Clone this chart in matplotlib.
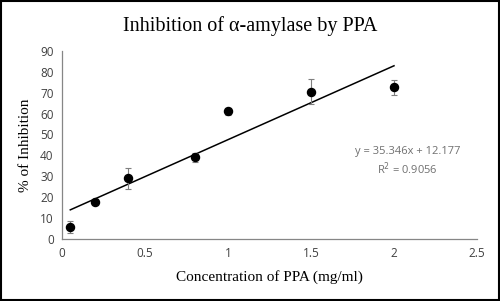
import matplotlib.pyplot as plt
import numpy as np

conc = [0.05, 0.2, 0.4, 0.8, 1.0, 1.5, 2.0]
inhibition = [5.8, 17.8, 29.0, 39.0, 61.0, 70.5, 72.5]
errors = [3.0, 1.0, 5.0, 2.0, 1.5, 6.0, 3.5]
slope, intercept = 35.346, 12.177

fig = plt.figure(figsize=(5.0, 3.01), dpi=100)
ax = fig.add_axes([0.124, 0.206, 0.83, 0.625])

ax.errorbar(conc, inhibition, yerr=errors, fmt='o', color='black',
            markersize=5.8, ecolor='#7f7f7f', elinewidth=0.8, capsize=2.5,
            capthick=0.8, zorder=3)
fit_x = np.array([conc[0], conc[-1]])
ax.plot(fit_x, slope * fit_x + intercept, color='black', linewidth=1.1)

ax.set_xlim(0, 2.5)
ax.set_ylim(0, 90)
ax.set_xticks([0, 0.5, 1, 1.5, 2, 2.5])
ax.set_xticklabels(['0', '0.5', '1', '1.5', '2', '2.5'])
ax.set_yticks(range(0, 100, 10))
ax.tick_params(length=0, labelsize=8.5, colors='#404040', pad=6)
for lbl in ax.get_xticklabels() + ax.get_yticklabels():
    lbl.set_family('Open Sans')
for side in ['top', 'right']:
    ax.spines[side].set_visible(False)
for side in ['left', 'bottom']:
    ax.spines[side].set_color('#868686')
    ax.spines[side].set_linewidth(0.9)

fig.text(0.5, 0.915, 'Inhibition of α-amylase by PPA', ha='center',
         va='center', family='Liberation Serif', fontsize=14.5)
ax.set_xlabel('Concentration of PPA (mg/ml)', family='Liberation Serif',
              fontsize=11, labelpad=7)
ax.set_ylabel('% of Inhibition', family='Liberation Serif', fontsize=11,
              labelpad=6)

ax.text(2.08, 37.0, 'y = 35.346x + 12.177\nR$^2$ = 0.9056', ha='center',
        va='center', fontsize=8, color='#707070', family='Open Sans',
        linespacing=1.3)

fig.patches.append(plt.Rectangle((0.002, 0.003), 0.996, 0.994,
                                 transform=fig.transFigure, fill=False,
                                 edgecolor='black', linewidth=1.5))

fig.savefig('out.png', dpi=100)
